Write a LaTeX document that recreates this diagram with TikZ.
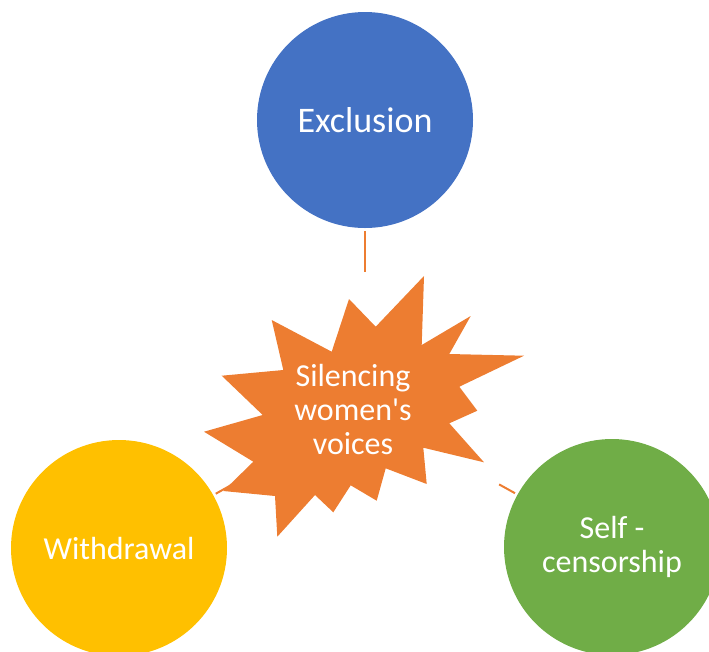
\documentclass[tikz,border=0pt]{standalone}
\usepackage{fontspec}
\setmainfont{Carlito}[Ligatures=TeXOff]
\usetikzlibrary{calc}
\definecolor{excl-blue}{HTML}{4472C4}
\definecolor{withd-gold}{HTML}{FFC000}
\definecolor{censor-green}{HTML}{70AD47}
\definecolor{burst-orange}{HTML}{ED7D31}

\begin{document}
\begin{tikzpicture}[x=0.75pt, y=-0.75pt, topic/.style={circle, fill=#1, minimum size=162pt, inner sep=0pt, text=white, align=center, font=\fontsize{24}{25.5}\selectfont}, link/.style={draw=burst-orange, line width=1.5pt}]

\useasboundingbox (0,0) rectangle (709,651);

% TOPICS

\node [topic=excl-blue, font=\fontsize{27}{28}\selectfont] (exclusao) at (365,120) {Exclusion};

\node [topic=withd-gold] (retirada) at (119,548) {Withdrawal};

\node [topic=censor-green] (autocensura) at (612,547) {Self -\\censorship};

\coordinate (centro) at (365,410);

% LINKS

\draw [link, shorten <=2pt, shorten >=103.5pt] (exclusao) -- (centro);
\draw [link, shorten <=2pt, shorten >=115pt] (retirada) -- (centro);
\draw [link, shorten <=2pt, shorten >=115pt] (autocensura) -- (centro);

% BURST

\fill [burst-orange] (424,276) -- (421.7,345) -- (470.7,316) -- (449.3,354) -- (524,355.7) -- (459.3,386.7) -- (477.3,410.7) -- (449.3,423.3) -- (484,462.3) -- (423.3,447.7) -- (426.7,484) -- (385.7,468.3) -- (376.7,500.7) -- (350.7,485.3) -- (333.3,512.3) -- (315,495) -- (277.3,536.7) -- (275,496) -- (223.3,491) -- (253.3,461.7) -- (204,431.7) -- (262.7,415) -- (221.7,375.7) -- (283.3,370) -- (271.7,320) -- (331.7,351.7) -- (349,299) -- (375.7,326.7) -- cycle;

\node [text=white, align=center, font=\fontsize{24}{25.5}\selectfont] (silenciamento) at (353,409) {Silencing\\women's\\voices};

\end{tikzpicture}
\end{document}
